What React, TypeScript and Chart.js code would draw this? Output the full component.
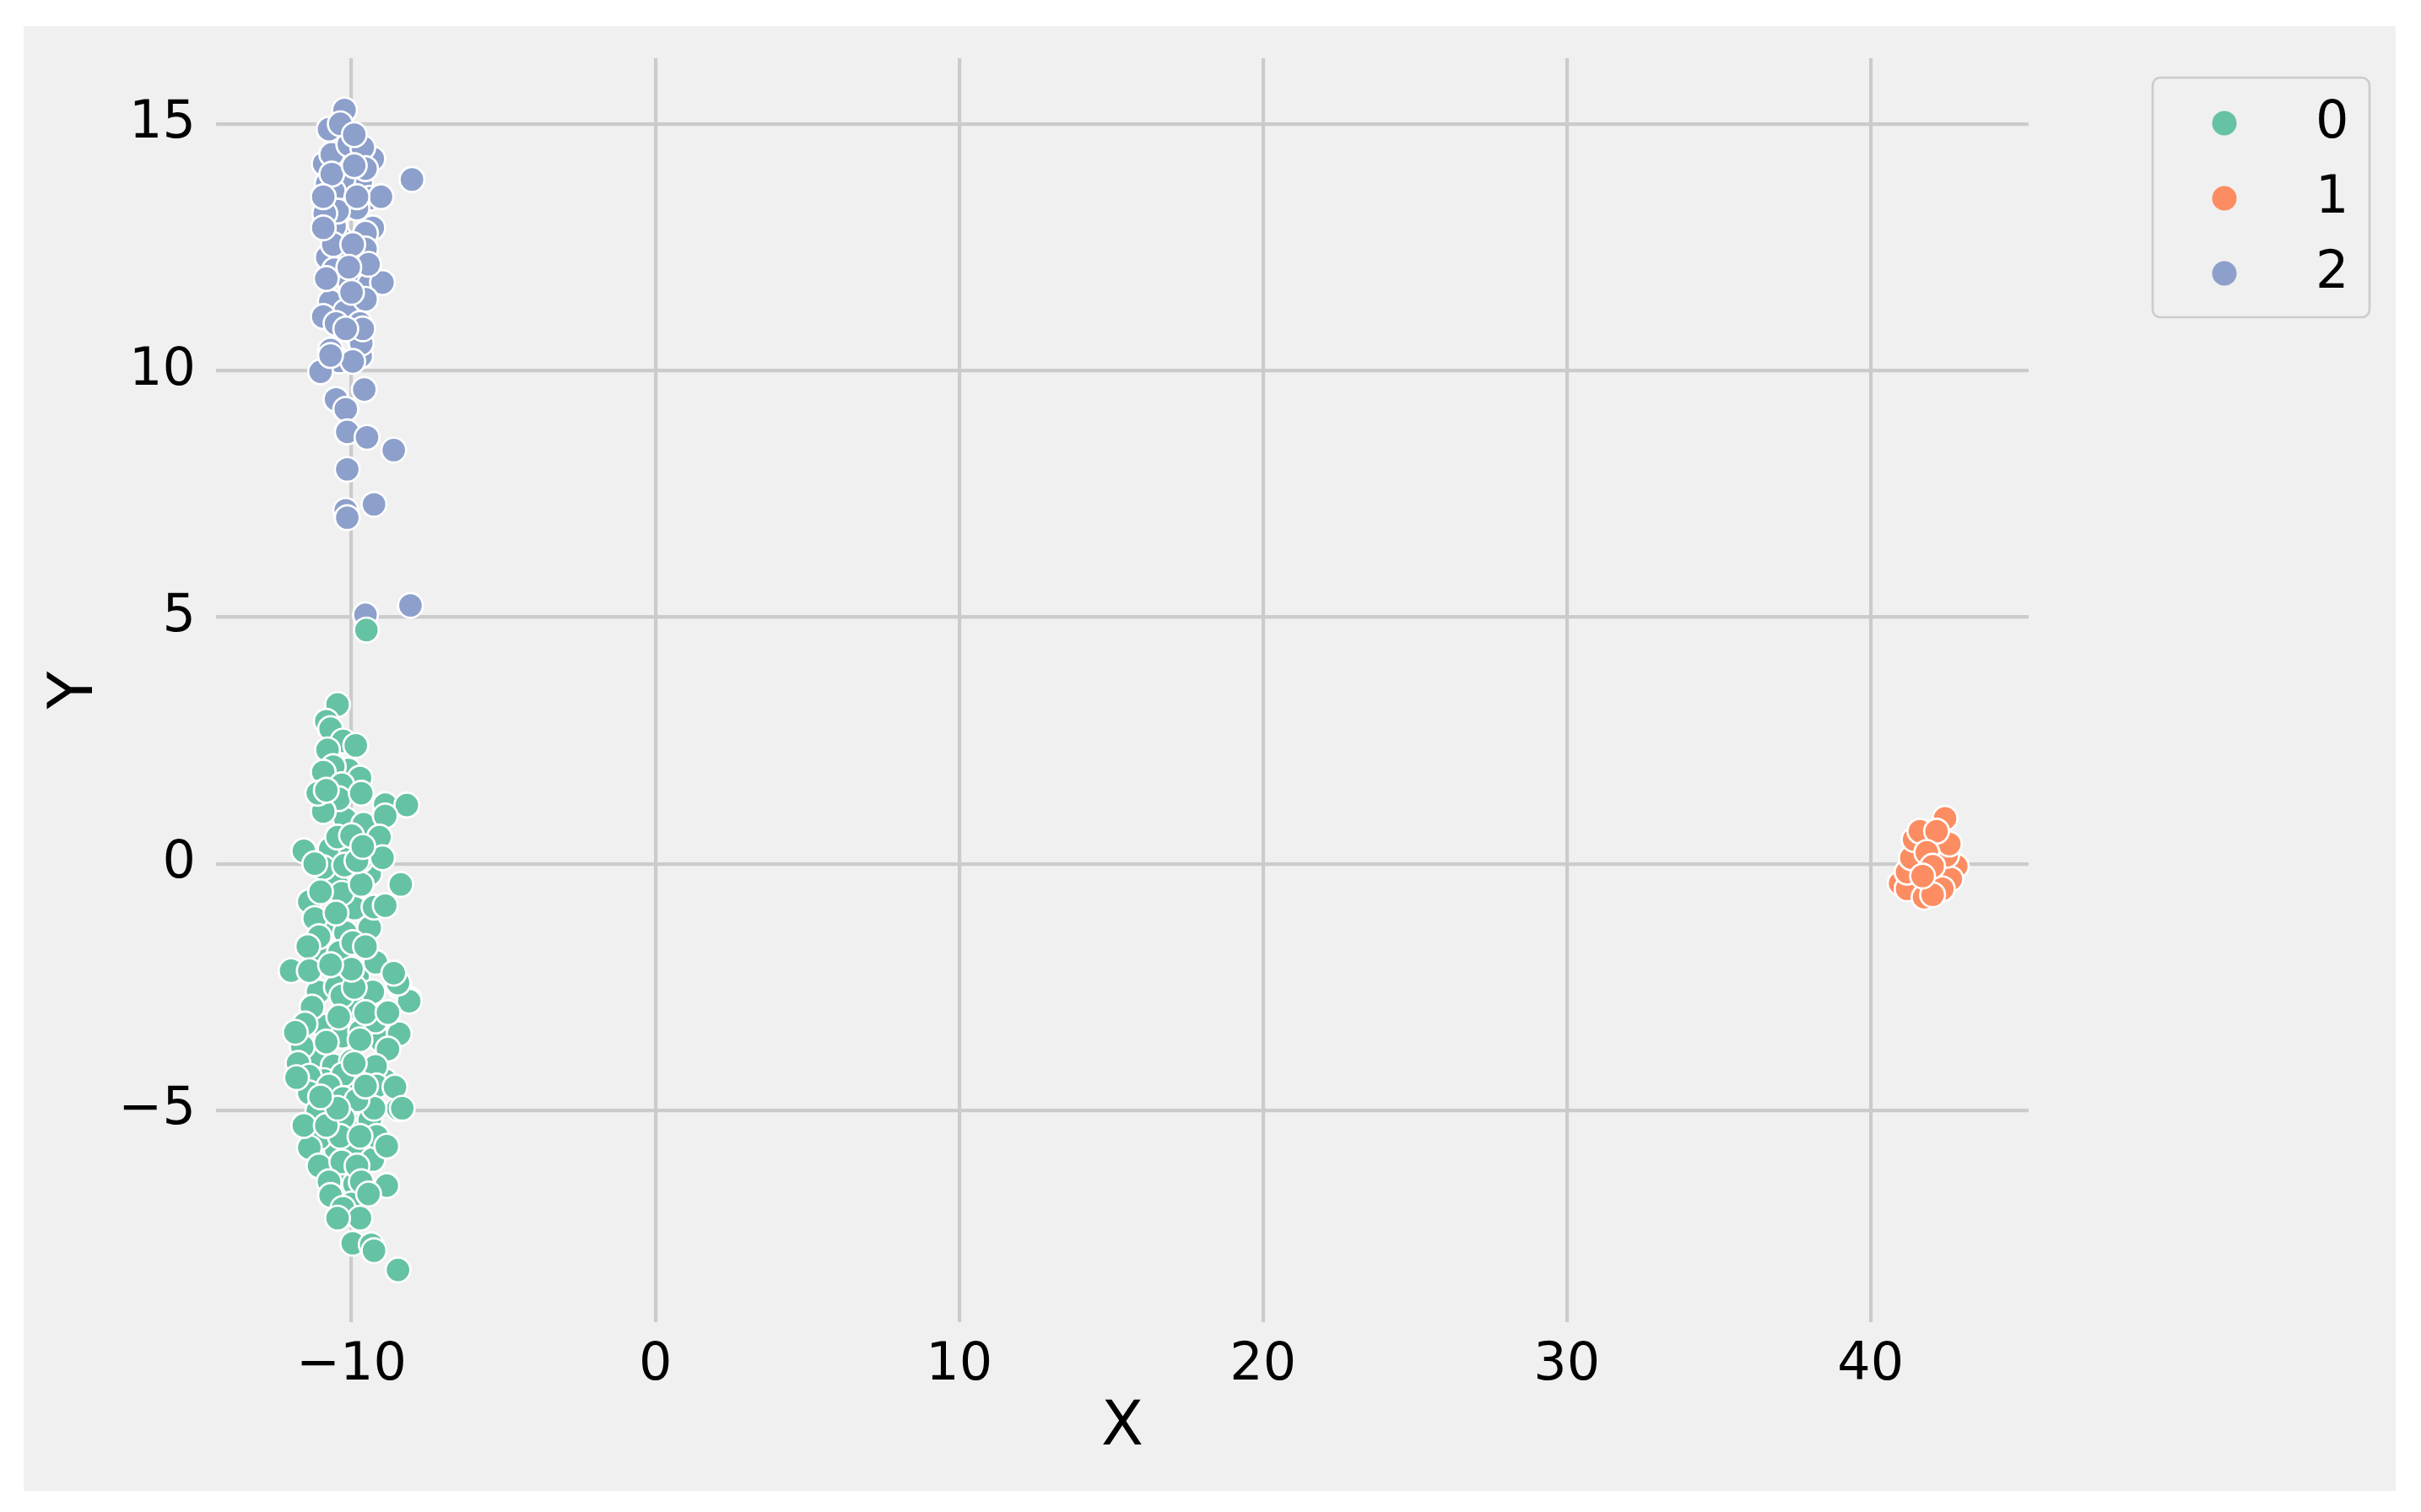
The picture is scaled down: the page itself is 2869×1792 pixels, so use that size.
import React, { useEffect, useRef } from 'react';
import { Chart, registerables } from 'chart.js';

Chart.register(...registerables);

const seriesLabels = ['0', '1', '2'];
const seriesColors = ['#66c2a5', '#fc8d62', '#8da0cb'];
const xTicks = [-10, 0, 10, 20, 30, 40];
const yTicks = [-5, 0, 5, 10, 15];
const xRange = [-14.46, 45.2];
const yRange = [-9.3, 16.34];
const xTitle = 'X';
const yTitle = 'Y';

// group 0 (green)
const group0: [number, number][] = [
  [-10.6, 2.0], [-10.1, 1.9], [-10.9, 1.3], [-10.2, 0.9], [-9.6, 0.8], [-10.7, 0.3], [-10.0, 0.2],
  [-9.4, -0.2], [-10.5, -0.4], [-9.9, -0.9], [-10.8, -1.3], [-10.2, -1.4], [-9.4, -1.3], [-11.0, -1.9],
  [-10.4, -1.8], [-9.8, -2.3], [-9.2, -2.0], [-11.1, -2.6], [-10.5, -2.5], [-9.9, -2.9], [-9.3, -2.6],
  [-10.9, -3.3], [-10.3, -3.5], [-9.7, -3.4], [-9.0, -3.6], [-11.2, -3.9], [-10.6, -4.1], [-10.0, -4.0],
  [-9.5, -4.2], [-10.9, -4.4], [-10.3, -4.5], [-9.6, -4.7], [-8.9, -4.4], [-10.7, -5.2], [-10.0, -5.3],
  [-9.4, -5.2], [-10.5, -5.8], [-9.9, -5.8], [-9.3, -6.0], [-10.4, -6.4], [-9.9, -6.5], [-10.0, -6.9],
  [-8.10, -2.75], [-8.46, -4.97],
  [-8.43, -2.48], [-8.10, -2.79], [-11.30, -2.91], [-10.32, -2.68], [-10.42, -3.11], [-9.21, -3.19],
  [-8.43, -3.45], [-11.53, -3.25], [-11.62, -3.71], [-10.83, -3.62], [-9.72, -3.57], [-8.80, -3.76],
  [-9.21, -4.11], [-10.28, -4.28], [-9.91, -4.05], [-11.76, -4.05], [-11.39, -4.31], [-10.74, -4.51],
  [-9.17, -4.51], [-8.57, -4.53], [-11.39, -4.65], [-10.28, -4.76], [-9.26, -4.96], [-8.33, -4.96],
  [-11.11, -5.02], [-9.82, -4.79], [-10.28, -5.16], [-11.07, -5.56], [-10.37, -5.53], [-9.17, -5.53],
  [-8.84, -5.73], [-11.39, -5.76], [-11.07, -6.13], [-10.32, -6.05], [-9.82, -6.13], [-10.74, -6.45],
  [-9.68, -6.45], [-8.84, -6.53], [-9.44, -6.70], [-10.69, -6.73], [-10.28, -6.99], [-9.72, -7.19],
  [-10.46, -7.19], [-9.96, -7.70], [-9.35, -7.73], [-9.26, -7.85], [-8.47, -8.24], [-11.85, -3.42],
  [-11.81, -4.34], [-11.57, -5.31], [-10.83, -5.31], [-9.72, -5.53], [-10.46, -4.96], [-11.02, -4.73],
  [-9.54, -4.51], [-9.54, -3.02], [-9.91, -2.51], [-8.80, -3.02],
  [-10.46, 3.23], [-10.83, 2.89], [-10.69, 2.74], [-10.28, 2.49], [-9.86, 2.40], [-10.79, 2.31],
  [-10.60, 1.97], [-9.72, 1.74], [-10.93, 1.86], [-10.32, 1.60], [-10.42, 1.32], [-9.68, 1.43],
  [-8.89, 1.20], [-8.18, 1.19], [-10.93, 1.06], [-8.89, 0.97], [-11.11, 1.43], [-10.46, 0.54],
  [-10.00, 0.57], [-9.08, 0.54], [-11.57, 0.26], [-10.93, -0.08], [-10.23, -0.03], [-9.72, 0.06],
  [-8.98, 0.12], [-11.21, 0.00], [-8.38, -0.42], [-11.39, -0.77], [-10.32, -0.60], [-9.68, -0.42],
  [-9.26, -0.88], [-8.89, -0.85], [-11.21, -1.11], [-10.51, -1.00], [-11.07, -1.48], [-9.96, -1.60],
  [-9.54, -1.68], [-11.44, -1.68], [-11.99, -2.17], [-11.39, -2.17], [-10.00, -2.14], [-8.47, -2.42],
  [-10.69, -2.05], [-8.61, -2.22], [-11.02, -0.57], [-9.82, 0.06], [-10.83, 1.49], [-9.63, 0.35],
  [-9.51, 4.74],
];

// group 1 (orange)
const group1: [number, number][] = [
  [41.8, 0.0], [42.2, 0.3], [42.0, -0.3], [41.6, -0.45], [42.3, -0.2], [42.4, 0.1],
  [40.97, -0.40], [41.20, -0.51], [41.20, -0.17], [41.34, 0.12], [41.43, 0.49], [42.82, -0.05],
  [42.64, -0.31], [42.36, -0.51], [42.50, 0.17], [42.59, 0.40], [41.76, -0.68], [42.04, -0.63],
  [42.45, 0.92], [41.62, 0.66], [42.17, 0.66], [41.85, 0.23], [42.04, -0.05], [41.71, -0.25],
];

// group 2 (blue)
const group2: [number, number][] = [
  [-10.9, 14.2], [-10.8, 13.8], [-10.2, 13.3], [-9.7, 13.8], [-9.3, 14.3], [-10.4, 12.7], [-10.0, 12.3],
  [-9.6, 11.9], [-10.7, 11.4], [-10.2, 11.2], [-9.8, 10.7], [-10.4, 10.2], [-9.9, 14.4], [-10.5, 14.7],
  [-9.7, 10.3], [-10.8, 12.3], [-9.3, 12.9],
  [-10.23, 15.29], [-10.65, 14.39], [-10.09, 14.59], [-9.63, 14.53], [-10.28, 13.90], [-9.54, 14.10],
  [-8.01, 13.88], [-9.40, 13.50], [-9.03, 13.53], [-9.82, 13.30], [-10.60, 13.64], [-10.56, 12.93],
  [-9.54, 12.79], [-10.60, 12.56], [-9.54, 12.47], [-9.96, 12.56], [-10.56, 12.05], [-10.05, 11.79],
  [-9.40, 11.76], [-8.98, 11.79], [-10.83, 11.87], [-9.54, 11.45], [-10.00, 11.59], [-10.93, 11.10],
  [-10.51, 10.96], [-9.72, 10.96], [-10.69, 10.42], [-9.68, 10.56], [-10.65, 13.99], [-10.46, 13.24],
  [-10.88, 13.19], [-10.93, 12.90], [-9.82, 13.53], [-9.91, 14.16], [-10.74, 14.90], [-10.37, 15.01],
  [-9.91, 14.79], [-9.44, 12.16], [-10.09, 12.10], [-9.63, 10.85], [-10.19, 10.85], [-10.93, 13.53],
  [-11.02, 9.98], [-9.96, 10.19], [-10.69, 10.31], [-9.58, 9.62], [-10.51, 9.42], [-10.19, 9.22],
  [-10.14, 8.76], [-9.49, 8.65], [-8.61, 8.39], [-10.14, 8.00], [-10.19, 7.17], [-9.26, 7.29],
  [-10.14, 7.02], [-8.06, 5.24], [-9.54, 5.05],
];

const groups = [group0, group1, group2];

const FONT = 'DejaVu Sans';
const fmt = (v: number) => (v < 0 ? '\u2212' + Math.abs(v) : String(v));

const legendPlugin = {
  id: 'mplLegend',
  afterDraw(chart: any) {
    const ctx = chart.ctx;
    ctx.save();
    const bx = 2523, by = 61, bw = 257, bh = 284;
    ctx.beginPath();
    ctx.roundRect(bx, by, bw, bh, 9);
    ctx.fillStyle = '#f0f0f0';
    ctx.fill();
    ctx.lineWidth = 2.7;
    ctx.strokeStyle = '#cccccc';
    ctx.stroke();
    chart.data.datasets.forEach((ds: any, i: number) => {
      const cy = 115 + i * 89;
      ctx.beginPath();
      ctx.arc(2608, cy, 14.5, 0, Math.PI * 2);
      ctx.fillStyle = ds.backgroundColor;
      ctx.fill();
      ctx.fillStyle = '#000000';
      ctx.font = `62px "${FONT}"`;
      ctx.textAlign = 'left';
      ctx.textBaseline = 'alphabetic';
      ctx.fillText(ds.label, 2716, cy + 17);
    });
    ctx.restore();
  },
};

export default function App() {
  const ref = useRef<HTMLCanvasElement | null>(null);
  useEffect(() => {
    if (!ref.current) return;
    const chart = new Chart(ref.current, {
      type: 'scatter',
      data: {
        datasets: groups.map((g, i) => ({
          label: seriesLabels[i],
          data: g.map(([x, y]) => ({ x, y })),
          backgroundColor: seriesColors[i],
          borderColor: '#ffffff',
          pointRadius: 14.7,
          pointBorderWidth: 2.7,
          pointHoverRadius: 14.7,
        })),
      },
      options: {
        animation: false,
        responsive: false,
        devicePixelRatio: 1,
        events: [],
        layout: { padding: { left: 0, top: 38, right: 435, bottom: 0 } },
        plugins: { legend: { display: false }, tooltip: { enabled: false } },
        scales: {
          x: {
            type: 'linear',
            min: xRange[0],
            max: xRange[1],
            afterBuildTicks: (s: any) => { s.ticks = xTicks.map((v) => ({ value: v })); },
            afterFit: (s: any) => {
              s.height = 200;
              s.paddingLeft = 0;
              s.paddingRight = 0;
            },
            grid: { color: '#cbcbcb', lineWidth: 4.2, drawTicks: false },
            border: { display: false },
            ticks: {
              font: { family: FONT, size: 62 },
              color: '#000000',
              padding: 15,
              maxRotation: 0,
              autoSkip: false,
              callback: (v: any) => fmt(Number(v)),
            },
            title: {
              display: true,
              text: xTitle,
              color: '#000000',
              font: { family: FONT, size: 73 },
              padding: { top: 0, bottom: 30 },
            },
          },
          y: {
            type: 'linear',
            min: yRange[0],
            max: yRange[1],
            afterBuildTicks: (s: any) => { s.ticks = yTicks.map((v) => ({ value: v })); },
            afterFit: (s: any) => {
              s.width = 228;
              s.paddingTop = 0;
              s.paddingBottom = 0;
            },
            grid: { color: '#cbcbcb', lineWidth: 4.2, drawTicks: false },
            border: { display: false },
            ticks: {
              font: { family: FONT, size: 62 },
              color: '#000000',
              padding: 24,
              autoSkip: false,
              callback: (v: any) => fmt(Number(v)),
            },
            title: {
              display: true,
              text: yTitle,
              color: '#000000',
              font: { family: FONT, size: 73 },
              padding: { top: 18, bottom: 0 },
            },
          },
        },
      },
      plugins: [legendPlugin],
    } as any);
    return () => chart.destroy();
  }, []);
  return (
    <div
      style={{
        position: 'fixed',
        left: 28,
        top: 31,
        width: 2811,
        height: 1736,
        background: '#f0f0f0',
      }}
    >
      <canvas ref={ref} width={2811} height={1736} style={{ display: 'block' }} />
    </div>
  );
}
